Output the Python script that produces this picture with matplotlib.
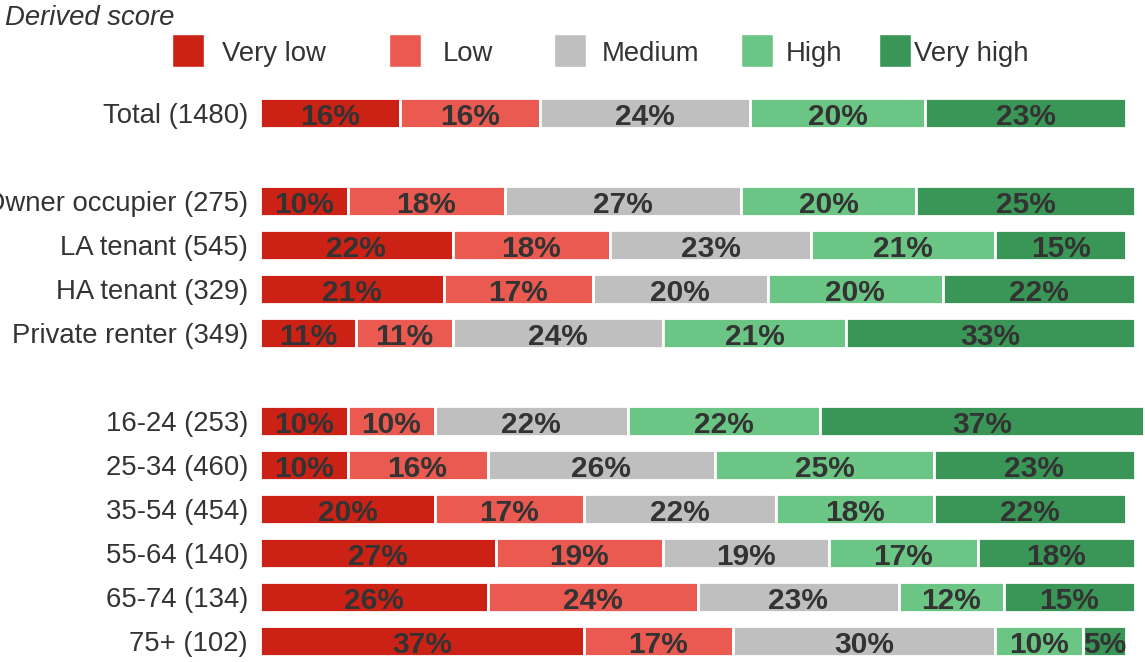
#!/usr/bin/env python3

import numpy as np
import matplotlib
matplotlib.use('Agg')
import matplotlib.pyplot as plt
from matplotlib.patches import Rectangle

plt.rcParams['font.family'] = ['Liberation Sans', 'DejaVu Sans']

levels = ['Very low', 'Low', 'Medium', 'High', 'Very high']
colours = ['#CC2216', '#EB5A50', '#BFBFBF', '#6BC585', '#3A9656']

groups = ['Total (1480)', None,
          'Owner occupier (275)', 'LA tenant (545)', 'HA tenant (329)',
          'Private renter (349)', None,
          '16-24 (253)', '25-34 (460)', '35-54 (454)', '55-64 (140)',
          '65-74 (134)', '75+ (102)']

very_low = [16, None, 10, 22, 21, 11, None, 10, 10, 20, 27, 26, 37]
low = [16, None, 18, 18, 17, 11, None, 10, 16, 17, 19, 24, 17]
medium = [24, None, 27, 23, 20, 24, None, 22, 26, 22, 19, 23, 30]
high = [20, None, 20, 21, 20, 21, None, 22, 25, 18, 17, 12, 10]
very_high = [23, None, 25, 15, 22, 33, None, 37, 23, 22, 18, 15, 5]

series = [very_low, low, medium, high, very_high]
text_col = '#333333'
fs = 19.8

W, H = 1145, 662
f = plt.figure(figsize=(W / 100, H / 100), dpi=100)
ax = f.add_axes([260 / W, -1 / H, 885 / W, 572 / H])

rows = [i for i, g in enumerate(groups) if g is not None]
left = np.zeros(len(groups))
for vals, col in zip(series, colours):
    for i in rows:
        v = vals[i]
        ax.barh(i, v, left=left[i], height=0.68, color=col,
                edgecolor='white', linewidth=2)
        ax.text(left[i] + v / 2, i + 0.1, '%d%%' % v, ha='center', va='center',
                fontsize=21.5, fontweight='bold', color=text_col)
        left[i] += v

ax.set_xlim(0, 885 / 8.75)
ax.set_ylim(len(groups) - 0.5, -0.5)
ax.set_yticks(rows)
ax.set_yticklabels([groups[i] for i in rows], fontsize=fs, color=text_col)
ax.tick_params(axis='y', length=0, pad=8.6)
ax.set_xticks([])
for s in ax.spines.values():
    s.set_visible(False)

# legend drawn along the top
f.text(5 / W, 1 - 18 / H, 'Derived score', fontsize=fs, style='italic',
       color=text_col, ha='left', va='center')
patch_x = [172, 389, 554, 741, 879]
label_x = [222, 443, 602, 786, 914]
for lv, col, px, tx in zip(levels, colours, patch_x, label_x):
    f.patches.append(Rectangle((px / W, 1 - 67 / H), 32 / W, 33 / H,
                               transform=f.transFigure, facecolor=col,
                               edgecolor='white', linewidth=1))
    f.text(tx / W, 1 - 54 / H, lv, fontsize=fs, color=text_col,
           ha='left', va='center')

f.savefig('out.png', dpi=100)
